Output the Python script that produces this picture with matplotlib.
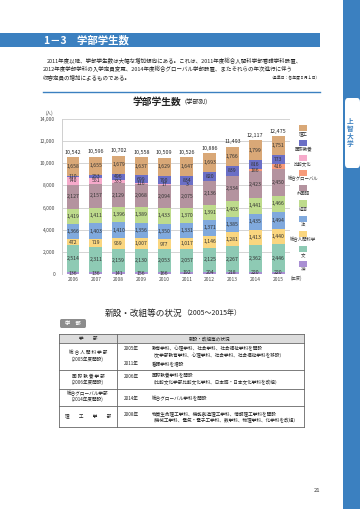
import matplotlib
matplotlib.use('Agg')
import matplotlib.pyplot as plt
from matplotlib.patches import Rectangle, FancyBboxPatch
from matplotlib.lines import Line2D

plt.rcParams['font.family'] = ['Noto Sans CJK JP', 'DejaVu Sans']

# ---------------- data ----------------
years = ['2006', '2007', '2008', '2009', '2010', '2011', '2012', '2013', '2014', '2015']
faculties = ['神', '文', '総合人間科学', '法', '経済', '外国語', '総合グローバル', '比較文化', '国際教養', '理工']
shin = [136, 136, 141, 156, 166, 192, 204, 218, 220, 220]
bun = [2514, 2311, 2159, 2130, 2053, 2057, 2125, 2267, 2362, 2446]
sougou_ningen = [472, 719, 959, 1007, 977, 1017, 1146, 1281, 1413, 1440]
hou = [1366, 1403, 1410, 1356, 1350, 1331, 1371, 1385, 1435, 1494]
keizai = [1419, 1411, 1396, 1389, 1433, 1370, 1391, 1403, 1441, 1466]
gaikokugo = [2127, 2157, 2129, 2068, 2094, 2075, 2136, 2334, 2423, 2450]
sougou_global = [0, 0, 0, 0, 0, 0, 0, 0, 186, 416]
hikaku_bunka = [740, 551, 333, 116, 17, 3, 0, 0, 0, 0]
kokusai_kyouyou = [110, 253, 496, 699, 790, 834, 820, 839, 816, 773]
rikou = [1658, 1655, 1679, 1637, 1629, 1647, 1693, 1766, 1799, 1751]
totals = [10542, 10596, 10702, 10558, 10509, 10526, 10886, 11493, 12117, 12475]
yticks = [0, 2000, 4000, 6000, 8000, 10000, 12000, 14000]

series = [shin, bun, sougou_ningen, hou, keizai, gaikokugo, sougou_global,
          hikaku_bunka, kokusai_kyouyou, rikou]
colors = ['#a98fd3', '#8ecab4', '#fad67f', '#80a9dd', '#bedb8c', '#b4939f',
          '#f79b7a', '#f6aacb', '#6b6fc6', '#d9a877']

W, H = 360, 509
fig = plt.figure(figsize=(W / 100, H / 100), dpi=100)
fig.patch.set_facecolor('white')


def fx(x):
    return x / W


def fy(y):
    return 1 - y / H


def ftext(x, y, s, size=4, ha='left', va='center', color='#222222', weight='normal', **kw):
    fig.text(fx(x), fy(y), s, fontsize=size, ha=ha, va=va, color=color, weight=weight, **kw)


def hline(x0, x1, y, color='#666666', lw=0.6):
    fig.add_artist(Line2D([fx(x0), fx(x1)], [fy(y), fy(y)], color=color, lw=lw))


def vline(x, y0, y1, color='#666666', lw=0.6):
    fig.add_artist(Line2D([fx(x), fx(x)], [fy(y0), fy(y1)], color=color, lw=lw))


def rect(x0, y0, x1, y1, color, **kw):
    fig.add_artist(Rectangle((fx(x0), fy(y1)), fx(x1) - fx(x0), fy(y0) - fy(y1),
                             facecolor=color, edgecolor='none', **kw))


# ---------------- page decorations ----------------
blue = '#3b80c0'
rect(0, 33, 320, 47, blue)
ftext(44, 40.5, '1－3　学部学生数', size=7.5, color='white', weight='bold')

rect(343, 0, 360, 509, blue)
fig.add_artist(FancyBboxPatch((fx(345), fy(168)), fx(360) - fx(345), fy(98) - fy(168),
                              boxstyle='round,pad=0,rounding_size=0.008',
                              facecolor='white', edgecolor='none'))
for k, ch in enumerate('上智大学'):
    ftext(350, 121 + k * 7.5, ch, size=4.8, ha='center', color=blue, weight='bold')

para = ['2011年度以降、学部学生数は大幅な増加傾向にある。これは、2011年度総合人間科学部看護学科設置、',
        '2012年度学部学科の入学定員変更、2014年度総合グローバル学部設置、またそれらの年次進行に伴う',
        '収容定員の増加によるものである。']
ftext(47, 61, para[0], size=3.95)
ftext(43, 69, para[1], size=3.95)
ftext(43, 77, para[2], size=3.95)
ftext(320, 77.5, '（基準日：各年度５月１日）', size=2.8, ha='right')

hline(43, 320, 92, color=blue, lw=1.0)
ftext(181, 102, '学部学生数', size=7, ha='right', weight='bold')
ftext(181, 102.5, '（学部別）', size=4.5, ha='left')

# ---------------- chart ----------------
ax = fig.add_axes([fx(62), fy(274), (290 - 62) / W, (274 - 119) / H])
ax.set_facecolor('none')
x = list(range(len(years)))
bottom = [0] * len(years)
for vals, col in zip(series, colors):
    ax.bar(x, vals, bottom=bottom, width=0.57, color=col, edgecolor='none', zorder=2)
    for i, v in enumerate(vals):
        if v > 0:
            ax.text(i, bottom[i] + v / 2, f'{v:,}', ha='center', va='center',
                    fontsize=3.7, color='#333333', zorder=3)
    bottom = [b + v for b, v in zip(bottom, vals)]
for i, t in enumerate(totals):
    ax.text(i, bottom[i] + 230, f'{t:,}', ha='center', va='bottom',
            fontsize=3.9, color='#222222')

ax.set_xlim(-0.483, 9.526)
ax.set_ylim(0, 14000)
ax.set_yticks(yticks)
ax.set_yticklabels([f'{v:,}' for v in yticks])
ax.set_xticks(x)
ax.set_xticklabels(years)
ax.tick_params(axis='both', length=0, labelsize=3.5, colors='#444444')
ax.tick_params(axis='y', pad=5)
ax.tick_params(axis='x', pad=2)
ax.grid(axis='y', color='#d4d4d4', lw=0.7, zorder=0)
for s in ['top', 'right', 'bottom']:
    ax.spines[s].set_visible(False)
ax.spines['left'].set_color('#cfcfcf')
ax.spines['left'].set_linewidth(0.7)

ftext(46, 113, '(人)', size=3.3, color='#444444')
ftext(291, 278.5, '(年度)', size=3.1, color='#444444')

# legend (top: 理工 ... bottom: 神)
for k, (name, col) in enumerate(zip(faculties[::-1], colors[::-1])):
    py = 128 + 15.1 * k
    rect(298.5, py - 3, 307.5, py + 3, col)
    ftext(303, py + 5.5, name, size=3.2, ha='center', color='#333333')

# ---------------- table ----------------
ftext(182, 313, '新設・改組等の状況', size=6.2, ha='right')
ftext(182, 313, '（2005～2015年）', size=5.0, ha='left')

fig.add_artist(FancyBboxPatch((fx(60), fy(328)), fx(86) - fx(60), fy(319) - fy(328),
                              boxstyle='round,pad=0,rounding_size=0.004',
                              facecolor='#8c8c8c', edgecolor='none'))
ftext(73, 323.5, '学　部', size=3.8, ha='center', color='white', weight='bold')

tx0, tx1, tcol = 59, 304, 117
rows_y = [334, 343, 370, 389, 406, 427]
rect(tx0, 334, tx1, 343, '#dcdcdc')
for yy in rows_y:
    hline(tx0, tx1, yy)
vline(tx0, 334, 427)
vline(tx1, 334, 427)
vline(tcol, 334, 427)
ftext(88, 338.5, '学　　部', size=3.3, ha='center')
ftext(210, 338.5, '新設・改組等の状況', size=3.3, ha='center')

ts = 3.3
ftext(88, 352.5, '総 合 人 間 科 学 部', size=ts, ha='center')
ftext(88, 359, '(2005年度開設)', size=ts, ha='center')
ftext(124, 349, '2005年', size=ts)
ftext(152, 349, '教育学科、心理学科、社会学科、社会福祉学科を開設', size=ts)
ftext(151, 355.5, '（文学部教育学科、心理学科、社会学科、社会福祉学科を移設）', size=ts)
ftext(124, 363.5, '2011年', size=ts)
ftext(152, 363.5, '看護学科を増設', size=ts)

ftext(88, 376, '国 際 教 養 学 部', size=ts, ha='center')
ftext(88, 382.5, '(2006年度開設)', size=ts, ha='center')
ftext(124, 376, '2006年', size=ts)
ftext(152, 376, '国際教養学科を開設', size=ts)
ftext(151, 383, '（比較文化学部比較文化学科、日本語・日本文化学科を改組）', size=ts)

ftext(88, 393.5, '総合グローバル学部', size=ts, ha='center')
ftext(88, 399.5, '(2014年度開設)', size=ts, ha='center')
ftext(124, 399, '2014年', size=ts)
ftext(152, 399, '総合グローバル学科を開設', size=ts)

ftext(88, 416, '理　　工　　学　　部', size=ts, ha='center')
ftext(124, 414, '2008年', size=ts)
ftext(152, 414, '物質生命理工学科、機能創造理工学科、情報理工学科を開設', size=ts)
ftext(151, 420.5, '（機械工学科、電気・電子工学科、数学科、物理学科、化学科を改組）', size=ts)

ftext(317, 490, '21', size=4.2, ha='center', color='#333333')

fig.savefig('out.png', dpi=100, facecolor='white')
